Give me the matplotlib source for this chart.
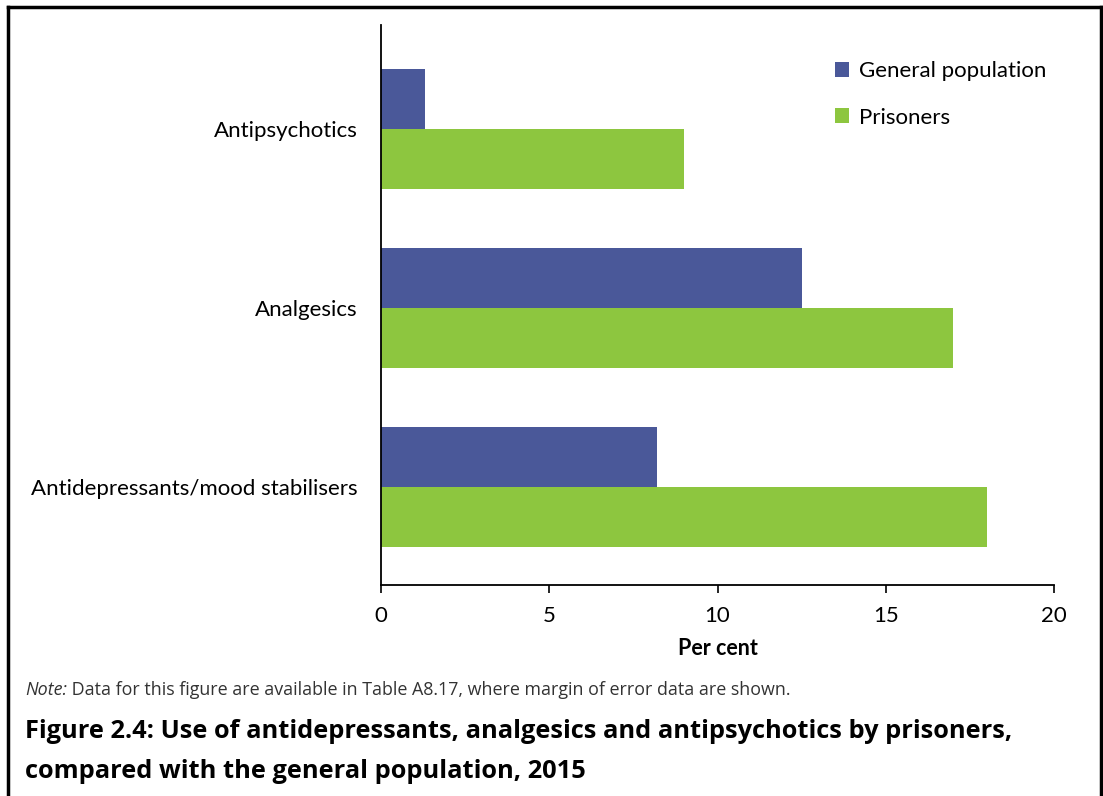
import matplotlib
matplotlib.use("Agg")
import matplotlib.pyplot as plt
from matplotlib.lines import Line2D
from matplotlib.patches import Patch
import numpy as np

categories = ["Antidepressants/mood stabilisers", "Analgesics", "Antipsychotics"]
general_population = [8.2, 12.5, 1.3]
prisoners = [18.0, 17.0, 9.0]
xticks = [0, 5, 10, 15, 20]

BLUE = "#4a5899"
GREEN = "#8dc63f"
FONT = "Lato"

plt.rcParams['font.family'] = [FONT, 'DejaVu Sans']

fig = plt.figure(figsize=(11.03, 7.96), dpi=100)
ax = fig.add_axes([381/1103, 1-585/796, (1054-381)/1103, (585-25)/796])

y = np.arange(len(categories))
h = 0.335
ax.barh(y + h/2, general_population, height=h, color=BLUE, label="General population")
ax.barh(y - h/2, prisoners, height=h, color=GREEN, label="Prisoners")

ax.set_xlim(0, 20)
ax.set_ylim(-0.55, 2.58)
ax.set_xticks(xticks)
ax.set_xticklabels([str(t) for t in xticks], fontsize=16)
ax.set_yticks(y)
ax.set_yticklabels(categories, fontsize=16)
ax.tick_params(axis='y', length=0, pad=17)
ax.tick_params(axis='x', length=6, width=1.2, direction='out', pad=9)
for s in ['top', 'right']:
    ax.spines[s].set_visible(False)
for s in ['left', 'bottom']:
    ax.spines[s].set_linewidth(1.3)
ax.set_xlabel("Per cent", fontsize=15.5, fontweight='bold', labelpad=9)

handles = [Patch(facecolor=BLUE), Patch(facecolor=GREEN)]
fig.legend(handles, ["General population", "Prisoners"], loc='upper left',
           bbox_to_anchor=(815/1103, 1-41/796), frameon=False, fontsize=16,
           handlelength=0.65, handleheight=0.65, handletextpad=0.45, labelspacing=1.2)

# border
lw = 2.5
fig.add_artist(Line2D([8/1103, 8/1103], [0, 1-7/796], color='black', lw=lw, transform=fig.transFigure))
fig.add_artist(Line2D([8/1103, 1101/1103], [1-7/796, 1-7/796], color='black', lw=lw, transform=fig.transFigure))
fig.add_artist(Line2D([1101/1103, 1101/1103], [0, 1-7/796], color='black', lw=lw, transform=fig.transFigure))

# note
note = fig.text(25/1103, 1-695/796, "Note:", fontsize=12.9, style='italic', color='#333333',
                family='Open Sans', va='baseline')
fig.canvas.draw()
plt.annotate(" Data for this figure are available in Table A8.17, where margin of error data are shown.",
             xy=(1, 0), xycoords=note, va='bottom', ha='left',
             fontsize=12.9, color='#333333', family='Open Sans', annotation_clip=False)

fig.text(25/1103, 1-731/796, "Figure 2.4: Use of antidepressants, analgesics and antipsychotics by prisoners,",
         fontsize=18.3, fontweight='bold', family='Open Sans', va='center')
fig.text(25/1103, 1-772/796, "compared with the general population, 2015",
         fontsize=18.3, fontweight='bold', family='Open Sans', va='center')

fig.savefig("out.png", dpi=100)
